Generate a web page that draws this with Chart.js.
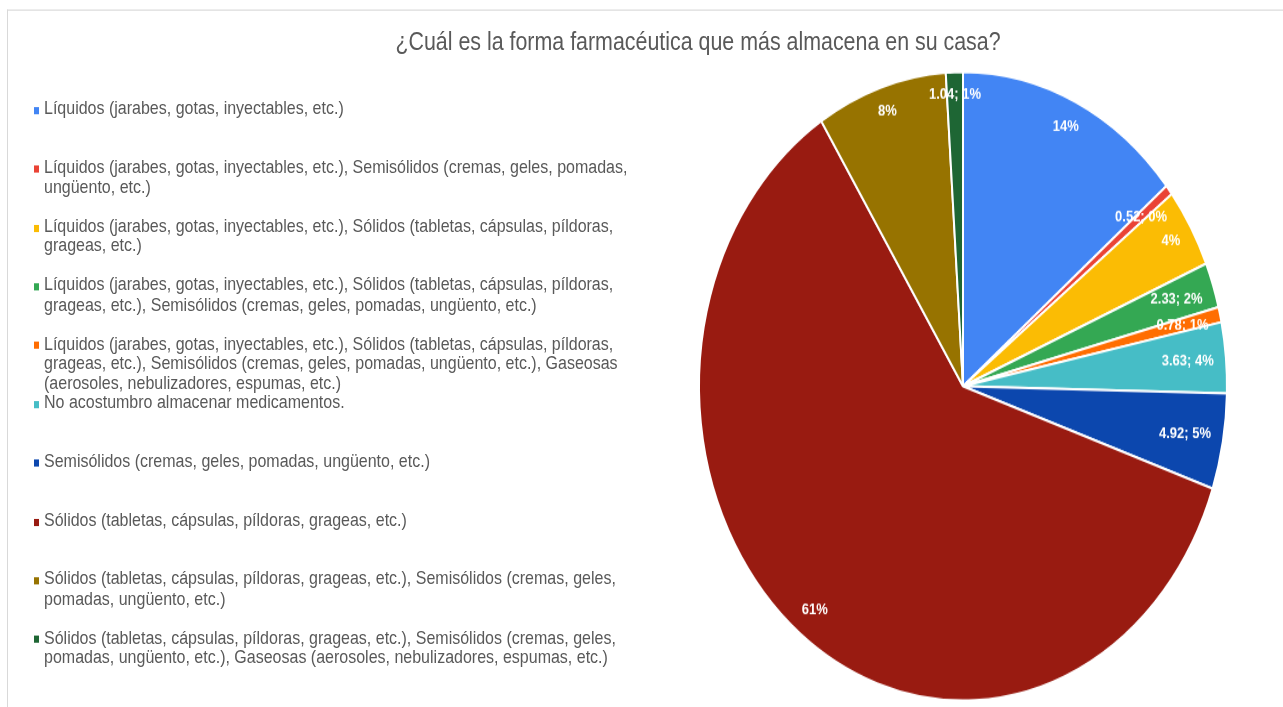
<!DOCTYPE html>
<html>
<head>
<meta charset="utf-8">
<script src="https://cdn.jsdelivr.net/npm/chart.js@4.4.1/dist/chart.umd.min.js"></script>
<style>
html,body{margin:0;padding:0;background:#fff;overflow:hidden;width:1283px;height:707px;}
#stage{position:absolute;left:0;top:0;width:1283px;height:594px;transform:scaleY(1.19024);transform-origin:0 0;font-family:"Liberation Sans",Arial,sans-serif;color:#595959;}
#frame{position:absolute;left:7px;top:7.5px;width:1300px;height:620px;border-top:1px solid #d9d9d9;border-left:1px solid #d9d9d9;}
#title{position:absolute;left:0;top:23.3px;width:1396px;text-align:center;font-size:21.4px;line-height:24px;white-space:nowrap;}
.item{position:absolute;left:44px;width:610px;font-size:16px;line-height:16.5px;}
.mk{position:absolute;left:-10px;top:6.8px;width:5px;height:6px;}
#pie{position:absolute;left:663px;top:24px;width:600px;height:570px;}
</style>
</head>
<body>
<div id="stage">
  <div id="frame"></div>
  <div id="title"></div>
  <div id="legend"></div>
  <canvas id="pie" width="600" height="570"></canvas>
</div>
<script>
const chartTitle = "¿Cuál es la forma farmacéutica que más almacena en su casa?";
const categories = [
  "Líquidos (jarabes, gotas, inyectables, etc.)",
  "Líquidos (jarabes, gotas, inyectables, etc.), Semisólidos (cremas, geles, pomadas, ungüento, etc.)",
  "Líquidos (jarabes, gotas, inyectables, etc.), Sólidos (tabletas, cápsulas, píldoras, grageas, etc.)",
  "Líquidos (jarabes, gotas, inyectables, etc.), Sólidos (tabletas, cápsulas, píldoras, grageas, etc.), Semisólidos (cremas, geles, pomadas, ungüento, etc.)",
  "Líquidos (jarabes, gotas, inyectables, etc.), Sólidos (tabletas, cápsulas, píldoras, grageas, etc.), Semisólidos (cremas, geles, pomadas, ungüento, etc.), Gaseosas (aerosoles, nebulizadores, espumas, etc.)",
  "No acostumbro almacenar medicamentos.",
  "Semisólidos (cremas, geles, pomadas, ungüento, etc.)",
  "Sólidos (tabletas, cápsulas, píldoras, grageas, etc.)",
  "Sólidos (tabletas, cápsulas, píldoras, grageas, etc.), Semisólidos (cremas, geles, pomadas, ungüento, etc.)",
  "Sólidos (tabletas, cápsulas, píldoras, grageas, etc.), Semisólidos (cremas, geles, pomadas, ungüento, etc.), Gaseosas (aerosoles, nebulizadores, espumas, etc.)"
];
const values = [14.0, 0.52, 4.1, 2.33, 0.78, 3.63, 4.92, 60.7, 7.98, 1.04];
const sliceLabels = ["14%", "0.52; 0%", "4%", "2.33; 2%", "0.78; 1%", "3.63; 4%", "4.92; 5%", "61%", "8%", "1.04; 1%"];
const colors = ["#4285F4", "#EA4335", "#FBBC04", "#34A853", "#FF6D01", "#46BDC6", "#0C47AE", "#991B11", "#977300", "#1E6634"];

document.getElementById('title').textContent = chartTitle;
const legend = document.getElementById('legend');
categories.forEach((c, i) => {
  const d = document.createElement('div');
  d.className = 'item';
  d.style.top = (83.0 + i * 49.4) + 'px';
  const m = document.createElement('span');
  m.className = 'mk';
  m.style.background = colors[i];
  d.appendChild(m);
  d.appendChild(document.createTextNode(c));
  legend.appendChild(d);
});

const labelPlugin = {
  id: 'sliceLabels',
  afterDatasetsDraw(chart) {
    const ctx = chart.ctx;
    const meta = chart.getDatasetMeta(0);
    ctx.save();
    ctx.font = 'bold 13px "Liberation Sans", Arial, sans-serif';
    ctx.fillStyle = '#ffffff';
    ctx.textAlign = 'center';
    ctx.textBaseline = 'middle';
    meta.data.forEach((arc, i) => {
      const p = arc.getProps(['x', 'y', 'startAngle', 'endAngle', 'outerRadius'], true);
      const a = (p.startAngle + p.endAngle) / 2;
      const t = sliceLabels[i];
      const hw = ctx.measureText(t).width / 2, hh = 6;
      const r = 0.955 * p.outerRadius - hw * Math.abs(Math.cos(a)) - hh * Math.abs(Math.sin(a));
      ctx.fillText(t, p.x + r * Math.cos(a), p.y + r * Math.sin(a));
    });
    ctx.restore();
  }
};

new Chart(document.getElementById('pie'), {
  type: 'pie',
  data: {
    labels: categories,
    datasets: [{
      data: values,
      backgroundColor: colors,
      borderColor: '#ffffff',
      borderWidth: 2
    }]
  },
  options: {
    responsive: false,
    animation: false,
    devicePixelRatio: 1,
    radius: 264,
    layout: { padding: { top: 31, bottom: 0, left: 0, right: 0 } },
    plugins: { legend: { display: false }, tooltip: { enabled: false }, title: { display: false } }
  },
  plugins: [labelPlugin]
});
</script>
</body>
</html>
